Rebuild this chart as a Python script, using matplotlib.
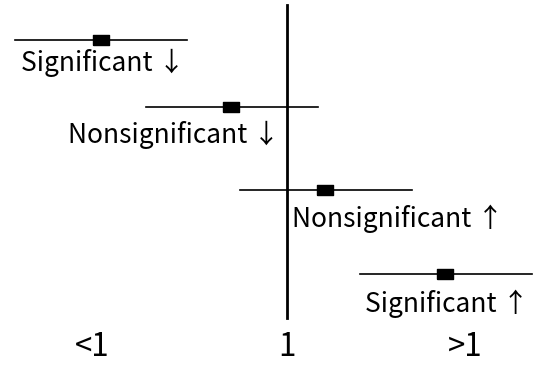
import numpy as np
import matplotlib.pyplot as plt

# forest-plot style schematic: estimate with interval, line of no effect at 1
labels = ['Significant \u2193', 'Nonsignificant \u2193', 'Nonsignificant \u2191', 'Significant \u2191']
est = [-0.86, 0.44, 1.38, 2.58]
lo = [-1.72, -0.41, 0.53, 1.73]
hi = [0.00, 1.31, 2.25, 3.45]
row_y = [40, 107, 190, 274]

# label placement (x in data units, baseline below each row)
label_x = [-0.845, -0.135, 1.05, 2.60]
label_ha = ['center', 'center', 'left', 'center']
label_base = [71, 143, 227, 312]

tick_pos = [-0.945, 1.0, 2.785]
tick_lab = ['<1', '1', '>1']

fig = plt.figure(figsize=(5.5, 3.66), dpi=100)
ax = fig.add_axes([0, 0, 1, 1])
ax.set_xlim(1 - 2.87, 1 + 2.63)
ax.set_ylim(366, 0)
ax.axis('off')

font = ['Noto Sans CJK JP', 'DejaVu Sans']

# line of no effect
ax.plot([1, 1], [5, 318], color='black', lw=2)

box = [(-1.6, -1), (1.6, -1), (1.6, 1), (-1.6, 1), (-1.6, -1)]
for y, e, l, h in zip(row_y, est, lo, hi):
    ax.plot([l, h], [y, y], color='black', lw=1.2)
    ax.plot([e], [y], marker=box, color='black', markersize=12, lw=0)

for yb, x, ha, s in zip(label_base, label_x, label_ha, labels):
    ax.text(x, yb, s, ha=ha, va='baseline', fontsize=19, family=font)

for x, s in zip(tick_pos, tick_lab):
    ax.text(x, 356, s, ha='center', va='baseline', fontsize=22.5, family=font)

fig.savefig('out.png', dpi=100)
